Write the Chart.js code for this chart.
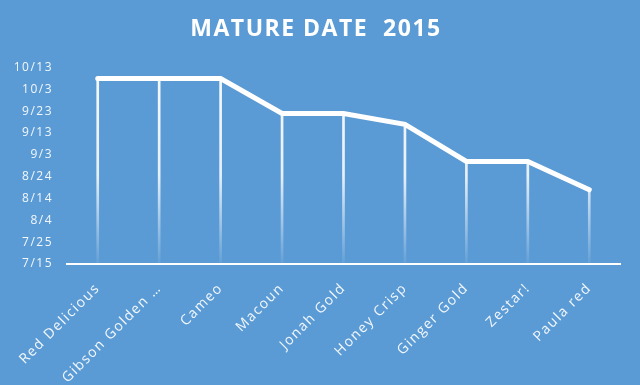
<!DOCTYPE html>
<html>
<head>
<meta charset="utf-8">
<script src="https://cdn.jsdelivr.net/npm/chart.js@4/dist/chart.umd.min.js"></script>
<style>
  html, body { margin: 0; padding: 0; background: #5b9bd5; }
  #wrap { width: 640px; height: 385px; }
</style>
</head>
<body>
<div id="wrap"><canvas id="myChart" width="640" height="385"></canvas></div>
<script>
var categories = ['Red Delicious', 'Gibson Golden …', 'Cameo', 'Macoun', 'Jonah Gold',
  'Honey Crisp', 'Ginger Gold', 'Zestar!', 'Paula red'];
var matureDates = ['10/8', '10/8', '10/8', '9/22', '9/22', '9/17', '8/31', '8/31', '8/18'];
var yTickLabels = ['7/15', '7/25', '8/4', '8/14', '8/24', '9/3', '9/13', '9/23', '10/3', '10/13'];

// days after 7/15 (2015)
function toDays(s) {
  var p = s.split('/');
  var start = new Date(2015, 6, 15);
  var d = new Date(2015, parseInt(p[0]) - 1, parseInt(p[1]));
  return Math.round((d - start) / 86400000);
}
var values = [];
for (var i = 0; i < matureDates.length; i++) {
  values.push(toDays(matureDates[i]));
}

var textColor = 'rgba(255,255,255,0.92)';

function dropGradient(context) {
  var chart = context.chart;
  var area = chart.chartArea;
  if (!area) return 'rgba(255,255,255,0.8)';
  var g = chart.ctx.createLinearGradient(0, area.top, 0, area.bottom);
  g.addColorStop(0, 'rgba(255,255,255,0.95)');
  g.addColorStop(0.55, 'rgba(255,255,255,0.85)');
  g.addColorStop(1, 'rgba(255,255,255,0.05)');
  return g;
}

// the Excel style has slightly spaced letters
var spacing = {
  id: 'spacing',
  beforeLayout: function(chart) { chart.ctx.letterSpacing = '1.5px'; },
  beforeDraw: function(chart) { chart.ctx.letterSpacing = '1.5px'; }
};

var ctx = document.getElementById('myChart').getContext('2d');
var chart = new Chart(ctx, {
  type: 'bar',
  data: {
    labels: categories,
    datasets: [{
      type: 'line',
      label: 'Mature date',
      data: values,
      borderColor: '#ffffff',
      borderWidth: 5,
      borderCapStyle: 'round',
      pointRadius: 0,
      tension: 0,
      fill: false,
      order: 0
    }, {
      type: 'bar',
      label: 'drop',
      data: values,
      backgroundColor: dropGradient,
      barThickness: 2,
      order: 1
    }]
  },
  plugins: [spacing],
  options: {
    responsive: false,
    animation: false,
    layout: { padding: { left: 12, right: 20, top: 0, bottom: 0 } },
    plugins: {
      legend: { display: false },
      tooltip: { enabled: false },
      title: {
        display: true,
        text: 'MATURE DATE  2015',
        color: '#ffffff',
        font: { family: 'Open Sans', size: 23, weight: 'bold' },
        padding: { top: 16, bottom: 24 }
      }
    },
    scales: {
      x: {
        grid: { display: false },
        border: { display: true, color: '#ffffff', width: 2 },
        ticks: {
          color: textColor,
          font: { family: 'Open Sans', size: 14 },
          minRotation: 45,
          maxRotation: 45,
          autoSkip: false,
          padding: 8
        },
        afterFit: function(scale) { scale.height = 121; }
      },
      y: {
        min: 0,
        max: 90,
        grid: { display: false },
        border: { display: false },
        ticks: {
          stepSize: 10,
          color: textColor,
          font: { family: 'Open Sans', size: 12 },
          padding: 6,
          callback: function(value, index) { return yTickLabels[index]; }
        },
        afterFit: function(scale) { scale.width = 55; }
      }
    }
  }
});
</script>
</body>
</html>
